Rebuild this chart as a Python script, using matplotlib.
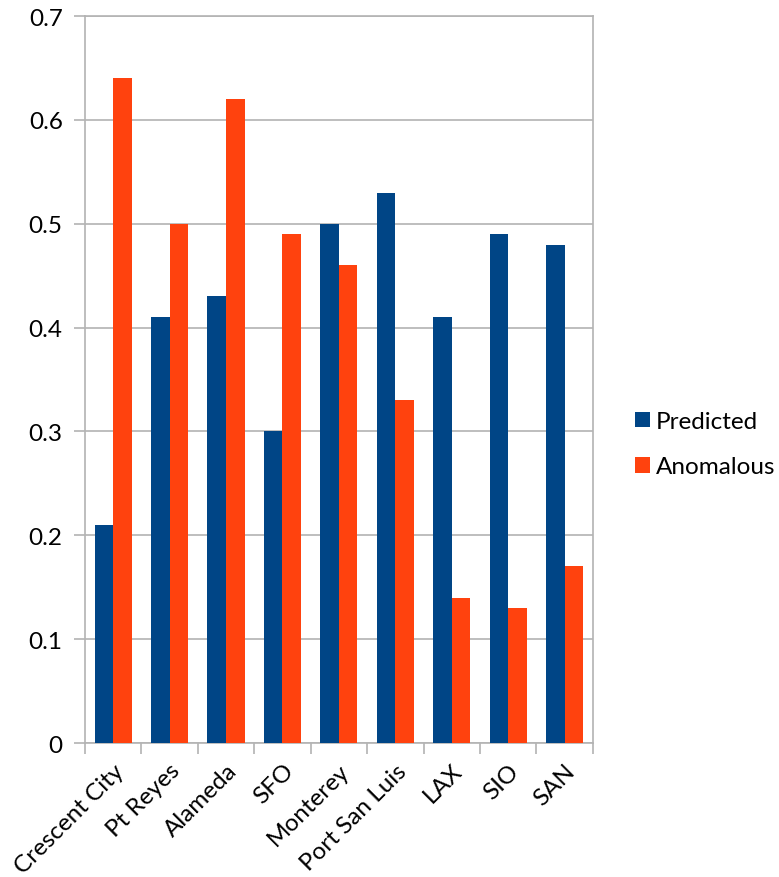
import matplotlib.pyplot as plt
import numpy as np

stations = ["Crescent City", "Pt Reyes", "Alameda", "SFO", "Monterey",
            "Port San Luis", "LAX", "SIO", "SAN"]
predicted = [0.21, 0.41, 0.43, 0.30, 0.50, 0.53, 0.41, 0.49, 0.48]
anomalous = [0.64, 0.50, 0.62, 0.49, 0.46, 0.33, 0.14, 0.13, 0.17]

plt.rcParams['font.family'] = ['Lato', 'DejaVu Sans']
grey = "#b3b3b3"
fs = 17.5

fig = plt.figure(figsize=(7.79, 8.78), dpi=100)
ax = fig.add_axes([0.109, 0.1526, 0.652, 0.828])

x = np.arange(len(stations))
w = 0.33
ax.bar(x - w / 2, predicted, w, color="#004586", label="Predicted", zorder=3)
ax.bar(x + w / 2, anomalous, w, color="#ff420e", label="Anomalous", zorder=3)

ax.set_xlim(-0.5, len(stations) - 0.5)
ax.set_ylim(0, 0.7)
ax.set_yticks(np.arange(0, 0.71, 0.1))
ax.set_yticklabels(["0", "0.1", "0.2", "0.3", "0.4", "0.5", "0.6", "0.7"])
ax.yaxis.grid(True, color=grey, linewidth=1.2, zorder=0)

ax.set_xticks(x)
ax.set_xticklabels(stations, rotation=45, ha="right", rotation_mode="anchor")
ax.set_xticks(np.arange(-0.5, len(stations), 1), minor=True)
ax.tick_params(axis="x", which="major", length=0, pad=12, labelsize=fs)
ax.tick_params(axis="x", which="minor", length=8, color=grey, width=1.2)
ax.tick_params(axis="y", length=8, color=grey, width=1.2, labelsize=fs, pad=8)

for s in ax.spines.values():
    s.set_color(grey)
    s.set_linewidth(1.2)

ax.legend(loc="center left", bbox_to_anchor=(0.815, 0.493),
          bbox_transform=fig.transFigure, frameon=False, fontsize=fs,
          borderpad=0, borderaxespad=0, handlelength=0.62, handleheight=0.62,
          labelspacing=1.0, handletextpad=0.25)

fig.savefig("out.png", dpi=100)
